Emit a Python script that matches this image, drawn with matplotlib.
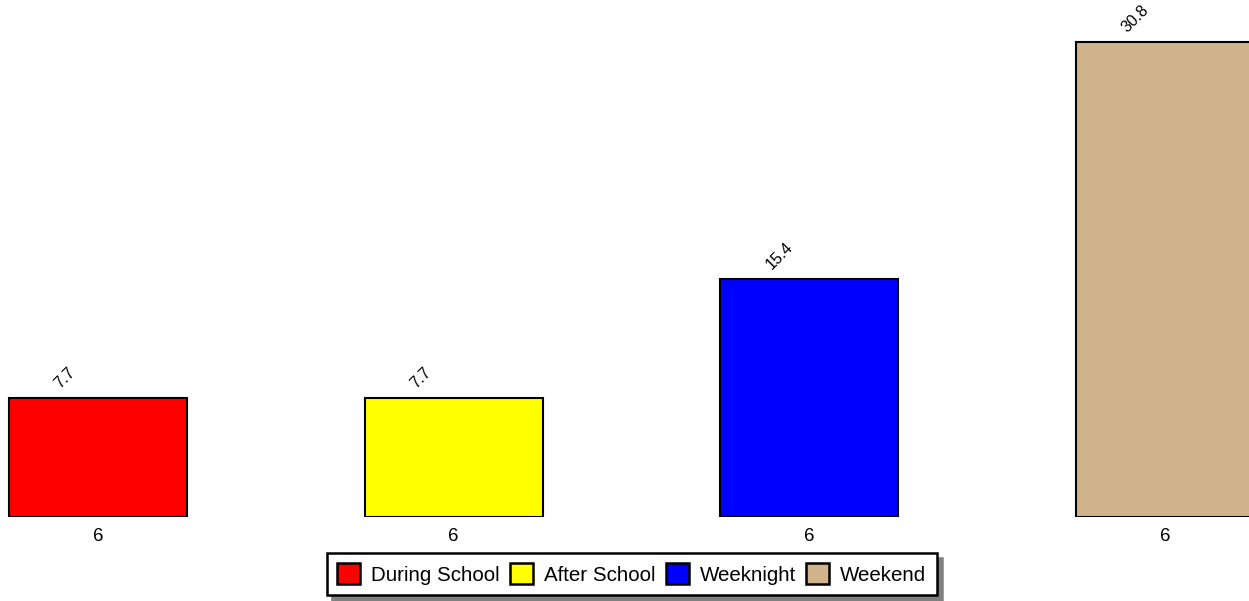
import matplotlib
matplotlib.use("Agg")
import matplotlib.pyplot as plt
from matplotlib.patches import Patch

plt.rcParams['font.family'] = ['Liberation Sans', 'DejaVu Sans']

# data
categories = ['During School', 'After School', 'Weeknight', 'Weekend']
values = [7.7, 7.7, 15.4, 30.8]
tick_labels = ['6', '6', '6', '6']
colors = ['#ff0000', '#ffff00', '#0000ff', '#d2b48c']

fig = plt.figure(figsize=(12.49, 6.01), dpi=100)
ax = fig.add_axes([0, 84 / 601, 1, 517 / 601])

x = list(range(len(values)))
bars = ax.bar(x, values, width=0.5, color=colors, edgecolor='black', linewidth=1.5, zorder=2)

ax.set_xlim(-0.2755, 3.236)
ax.set_ylim(0, 33.5)
for s in ax.spines.values():
    s.set_visible(False)
ax.set_yticks([])
ax.set_xticks(x)
ax.set_xticklabels(tick_labels, fontsize=13.5)
ax.tick_params(axis='x', length=0, pad=8)

# value labels, rotated
for xi, v in zip(x, values):
    ax.annotate(f'{v}', xy=(xi, v), xytext=(-25.5, 5), textcoords='offset points',
                rotation=45, rotation_mode='anchor', ha='left', va='bottom', fontsize=11.5)

handles = [Patch(facecolor=c, edgecolor='black', linewidth=1.8) for c in colors]
leg = fig.legend(handles, categories, loc='center', bbox_to_anchor=(632 / 1249, 27 / 601),
                 ncol=4, fontsize=14.8, frameon=True, fancybox=False,
                 shadow={'color': '#808080', 'alpha': 1, 'ox': 3.5, 'oy': -3.5},
                 handlelength=1.1, handleheight=1.2, handletextpad=0.55, columnspacing=0.5,
                 borderpad=0.5, borderaxespad=0)
leg.get_frame().set_edgecolor('black')
leg.get_frame().set_linewidth(1.8)

fig.savefig('out.png', dpi=100)
